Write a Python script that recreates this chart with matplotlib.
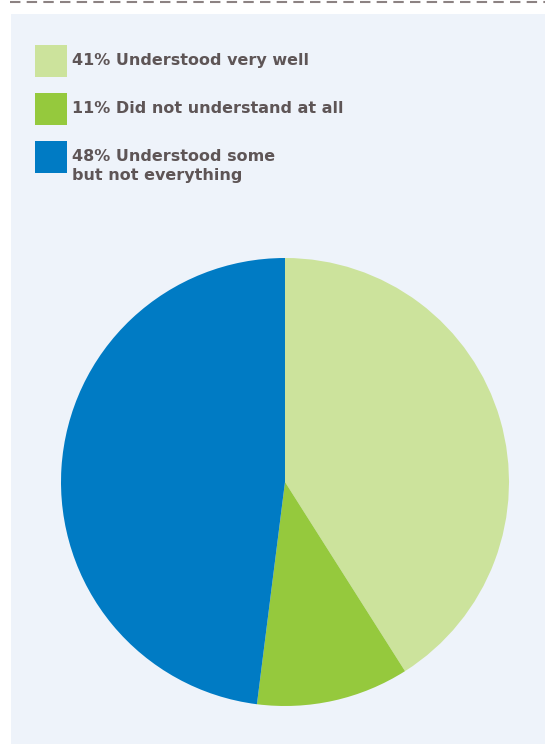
import matplotlib.pyplot as plt
from matplotlib.patches import Rectangle
from matplotlib.lines import Line2D

# survey answers, in percent
labels = ['Understood very well', 'Did not understand at all', 'Understood some\nbut not everything']
shares = [41, 11, 48]
colors = ['#cce39c', '#95c93d', '#007bc4']

W, H = 545, 744
fig = plt.figure(figsize=(W / 100, H / 100), dpi=100)
fig.patch.set_facecolor('white')

# light panel behind everything
fig.patches.append(Rectangle((11 / W, 0), 1 - 11 / W, (H - 14) / H,
                             transform=fig.transFigure, facecolor='#eef3fa',
                             edgecolor='none', zorder=-1))
# dashed rule at the top edge
fig.lines.append(Line2D([10 / W, 1], [1 - 1.5 / H, 1 - 1.5 / H], transform=fig.transFigure,
                        color='#8c8282', linewidth=1.5, linestyle=(0, (5, 3))))

# legend: square swatches with bold labels
text_color = '#5e5556'
swatch_tops = [45, 93, 141]
for lab, val, c, top in zip(labels, shares, colors, swatch_tops):
    fig.patches.append(Rectangle((35 / W, 1 - (top + 32) / H), 32 / W, 32 / H,
                                 transform=fig.transFigure, facecolor=c,
                                 edgecolor='none', zorder=1))
    fig.text(72 / W, 1 - (top + 8) / H, f'{val}% {lab}', fontsize=11.5,
             fontweight='bold', color=text_color, va='top', ha='left',
             linespacing=1.35)

# pie, starting at 12 o'clock and running clockwise
ax = fig.add_axes([61 / W, (H - 706) / H, 448 / W, 448 / H], zorder=2)
ax.pie(shares, colors=colors, startangle=90, counterclock=False, radius=1,
       wedgeprops=dict(linewidth=0))
ax.set_xlim(-1, 1)
ax.set_ylim(-1, 1)
ax.set_aspect('equal')
ax.axis('off')

fig.savefig('out.png', dpi=100)
